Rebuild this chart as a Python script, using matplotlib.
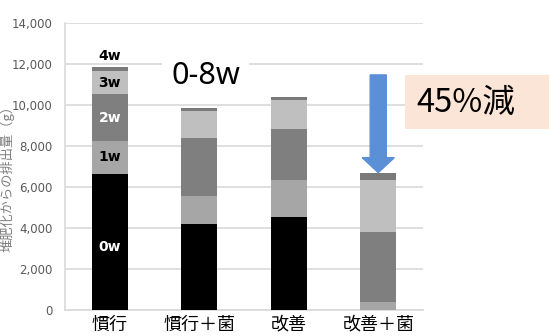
import matplotlib
matplotlib.use("Agg")
import matplotlib.pyplot as plt
from matplotlib.patches import Rectangle, FancyArrow

plt.rcParams['font.family'] = ['Noto Sans CJK JP', 'DejaVu Sans']

# emission per composting week, stacked per treatment
categories = ['慣行', '慣行＋菌', '改善', '改善＋菌']
weeks = ['0w', '1w', '2w', '3w', '4w']
w0 = [6650, 4180, 4550, 0]
w1 = [1600, 1400, 1780, 400]
w2 = [2300, 2830, 2520, 3400]
w3 = [1100, 1300, 1400, 2540]
w4 = [200, 130, 150, 370]
week_colors = ['#000000', '#a6a6a6', '#7f7f7f', '#bfbfbf', '#7a7a7a']
label_colors = ['white', 'black', 'white', 'black', 'black']
yticks = [0, 2000, 4000, 6000, 8000, 10000, 12000, 14000]

W, H = 549, 336
fig = plt.figure(figsize=(W / 100, H / 100), dpi=100)
ax = fig.add_axes([65 / W, 1 - 310 / H, (423 - 65) / W, (310 - 23.3) / H])

x = range(len(categories))
series = [w0, w1, w2, w3, w4]
bottom = [0] * len(categories)
for vals, col in zip(series, week_colors):
    ax.bar(x, vals, width=0.4, bottom=bottom, color=col, zorder=3)
    bottom = [bt + v for bt, v in zip(bottom, vals)]
totals = bottom

ax.set_xlim(-0.5, 3.5)
ax.set_ylim(0, 14000)
ax.set_yticks(yticks)
ax.set_yticklabels([f'{t:,}' for t in yticks], family='Liberation Sans Narrow',
                   fontsize=8.5, color='#595959')
ax.set_xticks(list(x))
ax.set_xticklabels(categories, fontsize=13, color='black')
ax.tick_params(length=0)
ax.tick_params(axis='y', pad=9)
ax.tick_params(axis='x', pad=4)
ax.grid(axis='y', color='#d9d9d9', linewidth=1.2, zorder=0)
for s in ['top', 'right']:
    ax.spines[s].set_visible(False)
for s in ['left', 'bottom']:
    ax.spines[s].set_color('#d9d9d9')
    ax.spines[s].set_linewidth(1.2)

ax.set_ylabel('堆肥化からの排出量（g）', fontsize=9.5, color='#7f7f7f')
ax.yaxis.set_label_coords((15 - 65) / 358, 0.47)

# week labels on the first bar
base = 0
for i, (vals, lc) in enumerate(zip(series, label_colors)):
    v = vals[0]
    if weeks[i] == '0w':
        ypos = v * 0.46
    elif weeks[i] == '4w':
        ypos = base + v + 560
    else:
        ypos = base + v / 2
    ax.text(0, ypos, weeks[i], ha='center', va='center', fontsize=10,
            fontweight='bold', color=lc, family='DejaVu Sans', zorder=5)
    base += v

ax.text(1.07, 11450, '0-8w', ha='center', va='center', fontsize=22,
        family='Noto Sans', zorder=4,
        bbox=dict(boxstyle='square,pad=0.3', fc='white', ec='none'))

# arrow down onto the last bar
ax.add_patch(FancyArrow(3, 11480, 0, totals[3] - 11480, width=0.18,
                        head_width=0.36, head_length=730,
                        length_includes_head=True, color='#5b8fd6',
                        zorder=6, clip_on=False))

fig.patches.append(Rectangle((405 / W, 1 - 129 / H), (W - 405) / W, 54 / H,
                             transform=fig.transFigure, fc='#fbe5d6', ec='none'))
fig.text(416 / W, 1 - 103 / H, '45%減', ha='left', va='center', fontsize=23.5)

fig.savefig('out.png', dpi=100)
